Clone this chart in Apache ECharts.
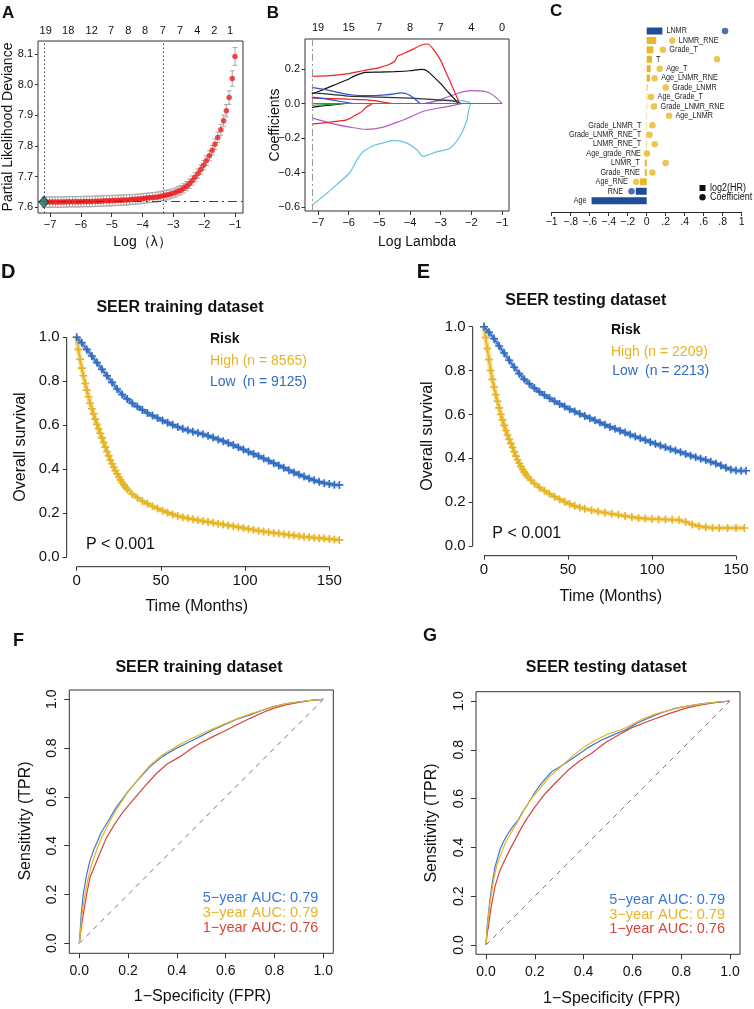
<!DOCTYPE html>
<html><head><meta charset="utf-8">
<script src="https://cdn.jsdelivr.net/npm/echarts@6/dist/echarts.min.js"></script>
<style>html,body{margin:0;padding:0;background:#fff}#c{width:754px;height:1009px}</style>
</head><body><div id="c"></div><script>
// ---------------- DATA ----------------
// Panel A: cross-validated LASSO
const lassoLogLambda = [-7.20,-7.11,-7.01,-6.92,-6.83,-6.74,-6.64,-6.55,-6.46,-6.37,-6.27,-6.18,-6.09,-6.00,-5.90,-5.81,-5.72,-5.63,-5.53,-5.44,-5.35,-5.26,-5.16,-5.07,-4.98,-4.89,-4.79,-4.70,-4.61,-4.52,-4.42,-4.33,-4.24,-4.15,-4.05,-3.96,-3.87,-3.78,-3.68,-3.59,-3.50,-3.41,-3.31,-3.22,-3.13,-3.04,-2.94,-2.85,-2.76,-2.67,-2.57,-2.48,-2.39,-2.30,-2.20,-2.11,-2.02,-1.93,-1.83,-1.74,-1.65,-1.56,-1.46,-1.37,-1.28,-1.19,-1.09,-1.00];
const lassoDeviance = [7.617,7.617,7.617,7.617,7.617,7.617,7.617,7.617,7.618,7.618,7.618,7.618,7.618,7.618,7.619,7.619,7.619,7.619,7.620,7.620,7.620,7.621,7.621,7.621,7.622,7.622,7.623,7.623,7.624,7.624,7.625,7.626,7.626,7.627,7.628,7.629,7.630,7.631,7.632,7.633,7.634,7.636,7.638,7.640,7.642,7.645,7.648,7.652,7.656,7.662,7.669,7.677,7.687,7.698,7.710,7.723,7.737,7.752,7.768,7.786,7.806,7.828,7.853,7.882,7.915,7.958,8.020,8.092];
const lassoSE = [0.017,0.017,0.017,0.017,0.017,0.017,0.017,0.017,0.017,0.017,0.017,0.017,0.017,0.017,0.017,0.017,0.017,0.017,0.017,0.017,0.017,0.017,0.017,0.017,0.017,0.017,0.017,0.017,0.017,0.017,0.016,0.016,0.016,0.016,0.016,0.016,0.016,0.016,0.016,0.016,0.016,0.016,0.016,0.016,0.015,0.015,0.015,0.015,0.015,0.015,0.015,0.015,0.015,0.015,0.015,0.015,0.015,0.016,0.016,0.016,0.017,0.017,0.018,0.019,0.020,0.022,0.025,0.029];
const lassoTopPos = [-7.14,-6.41,-5.65,-5.02,-4.46,-3.92,-3.34,-2.78,-2.22,-1.67,-1.16];
const lassoTopCount = [19,18,12,7,8,8,7,7,4,2,1];
const lambdaMinLog = -7.20, lambda1seLog = -3.34;
const lassoXTicks = [-7,-6,-5,-4,-3,-2,-1];
const lassoYTicks = [7.6,7.7,7.8,7.9,8.0,8.1];

// Panel B: coefficient paths
const coefTopPos = [-7,-6,-5,-4,-3,-2,-1];
const coefTopCount = [19,15,7,8,7,4,0];
const coefYTicks = [-0.6,-0.4,-0.2,0.0,0.2];
const pathRed1 = [[-7.2,0.158],[-6.6,0.162],[-6.07,0.172],[-5.53,0.19],[-5.0,0.208],[-4.7,0.225],[-4.5,0.245],[-4.4,0.275],[-4.2,0.29],[-3.9,0.315],[-3.65,0.338],[-3.42,0.345],[-3.2,0.305],[-3.0,0.25],[-2.8,0.17],[-2.6,0.09],[-2.43,0.02],[-2.38,0],[-1,0]];
const pathBlack1 = [[-7.2,0.056],[-6.9,0.075],[-6.5,0.105],[-6.07,0.136],[-5.8,0.16],[-5.45,0.18],[-5.0,0.182],[-4.5,0.185],[-4.0,0.19],[-3.62,0.198],[-3.45,0.19],[-3.2,0.15],[-3.0,0.115],[-2.8,0.075],[-2.6,0.035],[-2.45,0.007],[-2.4,0],[-1,0]];
const pathBlue1 = [[-7.2,0.094],[-6.8,0.082],[-6.4,0.066],[-6.0,0.052],[-5.6,0.046],[-5.2,0.046],[-4.8,0.05],[-4.5,0.056],[-4.3,0.062],[-4.1,0.055],[-3.9,0.035],[-3.75,0.012],[-3.65,0],[-1,0]];
const pathBlue2 = [[-7.2,0.037],[-6.8,0.028],[-6.4,0.016],[-6.0,0.004],[-5.85,0],[-1,0]];
const pathBlack2 = [[-7.2,0.062],[-6.5,0.052],[-6.0,0.043],[-5.0,0.037],[-4.0,0.031],[-3.6,0.027],[-3.0,0.02],[-2.6,0.014],[-2.4,0.005],[-2.3,0],[-1,0]];
const pathRed2 = [[-7.2,0.031],[-6.5,0.028],[-6.0,0.025],[-5.5,0.022],[-5.0,0.012],[-4.7,0.003],[-4.6,0],[-1,0]];
const pathRed3 = [[-7.2,-0.12],[-6.6,-0.108],[-6.07,-0.095],[-5.8,-0.07],[-5.6,-0.05],[-5.45,-0.025],[-5.3,-0.008],[-5.2,0],[-1,0]];
const pathPurple1 = [[-7.2,-0.083],[-6.5,-0.118],[-5.96,-0.137],[-5.42,-0.15],[-4.87,-0.137],[-4.33,-0.103],[-3.95,-0.075],[-3.57,-0.045],[-2.92,-0.022],[-2.5,-0.008],[-2.27,0],[-1,0]];
const pathPurple2 = [[-7.2,0],[-3.55,0],[-3.2,0.012],[-2.9,0.03],[-2.5,0.055],[-2.2,0.07],[-2.0,0.075],[-1.6,0.072],[-1.3,0.05],[-1.0,0]];
const pathCyan1 = [[-7.2,-0.59],[-6.91,-0.55],[-6.39,-0.47],[-5.96,-0.4],[-5.74,-0.33],[-5.53,-0.28],[-5.2,-0.245],[-4.87,-0.228],[-4.52,-0.214],[-4.1,-0.23],[-3.77,-0.27],[-3.58,-0.306],[-3.13,-0.28],[-2.7,-0.26],[-2.37,-0.19],[-2.15,-0.1],[-1.99,0],[-1,0]];
const pathCyan2 = [[-7.2,0],[-3.6,0],[-3.2,0.012],[-2.8,0.02],[-2.4,0.018],[-2.1,0.008],[-2.0,0],[-1,0]];
const pathBlack3 = [[-7.2,-0.022],[-6.8,-0.013],[-6.4,-0.005],[-6.1,0],[-1,0]];
const pathGreen1 = [[-7.2,-0.01],[-6.6,-0.005],[-6.1,0],[-1,0]];
const pathGreen2 = [[-7.2,0],[-1,0]];

// Panel C: log2(HR) bars and coefficients
const cLabels = ["LNMR","LNMR_RNE","Grade_T","T","Age_T","Age_LNMR_RNE","Grade_LNMR","Age_Grade_T","Grade_LNMR_RNE","Age_LNMR","Grade_LNMR_T","Grade_LNMR_RNE_T","LNMR_RNE_T","Age_grade_RNE","LNMR_T","Grade_RNE","Age_RNE","RNE","Age"];
const cLog2HR = [0.165,0.10,0.07,0.056,0.042,0.035,0.008,0.006,0.005,0.004,-0.004,-0.005,-0.006,-0.008,-0.02,-0.02,-0.07,-0.115,-0.58];
const cCoef = [0.825,0.27,0.17,0.74,0.137,0.084,0.20,0.046,0.077,0.235,0.06,0.03,0.084,0.003,0.20,0.06,-0.11,-0.16,null];
const cHighlighted = ["LNMR","RNE","Age"];
const cTicks = [-1,-0.8,-0.6,-0.4,-0.2,0,0.2,0.4,0.6,0.8,1];

// Panel D / E: Kaplan-Meier
const kmXTicks = [0,50,100,150];
const kmYTicks = [0,0.2,0.4,0.6,0.8,1.0];
const trainHigh = [[0,1.0],[1,0.945],[2,0.90],[3,0.86],[4,0.825],[5,0.79],[6,0.76],[7,0.73],[8,0.70],[9,0.675],[10,0.652],[11,0.628],[12,0.605],[13,0.584],[14,0.564],[15,0.543],[16,0.522],[17,0.501],[18,0.481],[19,0.461],[20,0.442],[21,0.425],[22,0.409],[23,0.394],[24,0.379],[25,0.365],[26,0.352],[27,0.340],[28,0.329],[29,0.318],[30,0.309],[33,0.288],[36,0.271],[39,0.256],[42,0.244],[45,0.232],[48,0.222],[51,0.212],[54,0.203],[57,0.195],[60,0.188],[63,0.182],[66,0.177],[69,0.173],[72,0.169],[75,0.165],[78,0.161],[81,0.157],[84,0.153],[87,0.149],[90,0.145],[93,0.141],[96,0.137],[99,0.133],[102,0.129],[105,0.125],[108,0.121],[111,0.117],[114,0.114],[117,0.111],[120,0.108],[123,0.105],[126,0.102],[129,0.099],[132,0.096],[135,0.093],[138,0.091],[141,0.089],[144,0.087],[147,0.085],[150,0.083],[153,0.081],[156,0.079]];
const trainLow = [[0,1.0],[3,0.975],[6,0.945],[9,0.915],[12,0.885],[15,0.855],[18,0.825],[21,0.795],[24,0.765],[27,0.74],[30,0.72],[33,0.70],[36,0.685],[39,0.67],[42,0.656],[45,0.644],[48,0.633],[51,0.622],[54,0.612],[57,0.602],[60,0.592],[63,0.584],[66,0.577],[69,0.571],[72,0.565],[75,0.559],[78,0.552],[81,0.544],[84,0.536],[87,0.528],[90,0.519],[93,0.51],[96,0.50],[99,0.49],[102,0.48],[105,0.47],[108,0.46],[111,0.449],[114,0.439],[117,0.428],[120,0.417],[123,0.407],[126,0.396],[129,0.386],[132,0.376],[135,0.367],[138,0.358],[141,0.350],[144,0.343],[147,0.337],[150,0.333],[153,0.330],[156,0.329]];
const testHigh = [[0,1.0],[1,0.95],[2,0.90],[3,0.85],[4,0.80],[5,0.76],[6,0.725],[7,0.69],[8,0.66],[9,0.63],[10,0.60],[11,0.575],[12,0.55],[13,0.527],[14,0.506],[15,0.487],[16,0.468],[17,0.449],[18,0.43],[19,0.41],[20,0.393],[21,0.377],[22,0.362],[23,0.349],[24,0.337],[25,0.326],[26,0.316],[28,0.30],[30,0.285],[33,0.267],[36,0.252],[39,0.238],[42,0.225],[45,0.213],[48,0.202],[51,0.192],[54,0.183],[57,0.176],[60,0.170],[64,0.163],[68,0.157],[72,0.152],[76,0.147],[80,0.142],[84,0.137],[88,0.132],[92,0.128],[96,0.125],[100,0.123],[104,0.122],[108,0.121],[112,0.120],[116,0.118],[120,0.110],[124,0.098],[128,0.090],[132,0.085],[136,0.083],[140,0.082],[145,0.082],[150,0.082],[155,0.082]];
const testLow = [[0,1.0],[3,0.975],[6,0.945],[9,0.912],[12,0.88],[15,0.847],[18,0.815],[21,0.786],[24,0.760],[27,0.74],[30,0.72],[33,0.703],[36,0.688],[39,0.674],[42,0.66],[45,0.648],[48,0.636],[51,0.624],[54,0.613],[57,0.603],[60,0.593],[63,0.583],[66,0.573],[69,0.563],[72,0.553],[75,0.543],[78,0.535],[81,0.526],[84,0.517],[87,0.508],[90,0.499],[93,0.491],[96,0.483],[99,0.474],[102,0.466],[105,0.458],[108,0.450],[111,0.442],[114,0.435],[117,0.428],[120,0.420],[123,0.412],[126,0.405],[129,0.398],[132,0.392],[135,0.384],[138,0.376],[141,0.367],[144,0.357],[147,0.349],[150,0.344],[153,0.343],[156,0.343]];
const trainN = {high: 8565, low: 9125};
const testN = {high: 2209, low: 2213};
const pValueText = "P < 0.001";

// Panel F / G: ROC
const rocTicks = [0,0.2,0.4,0.6,0.8,1.0];
const rocYears = ["5","3","1"];
const aucTrain = [0.79,0.79,0.76];
const aucTest = [0.79,0.79,0.76];
const rocTrain5 = [[0,0],[0.003,0.04],[0.008,0.12],[0.016,0.2],[0.03,0.28],[0.044,0.34],[0.06,0.385],[0.071,0.41],[0.09,0.455],[0.112,0.49],[0.15,0.555],[0.194,0.615],[0.24,0.67],[0.29,0.724],[0.34,0.765],[0.4,0.80],[0.45,0.825],[0.495,0.847],[0.55,0.875],[0.604,0.90],[0.65,0.92],[0.70,0.936],[0.75,0.955],[0.795,0.97],[0.85,0.982],[0.905,0.99],[0.95,0.996],[1,1]];
const rocTrain3 = [[0,0],[0.004,0.04],[0.01,0.11],[0.02,0.18],[0.035,0.26],[0.05,0.32],[0.07,0.38],[0.09,0.43],[0.115,0.48],[0.15,0.545],[0.194,0.612],[0.24,0.672],[0.29,0.73],[0.34,0.772],[0.4,0.808],[0.45,0.835],[0.5,0.858],[0.55,0.88],[0.604,0.903],[0.65,0.922],[0.70,0.94],[0.75,0.955],[0.8,0.97],[0.85,0.982],[0.9,0.99],[0.95,0.996],[1,1]];
const rocTrain1 = [[0,0],[0.005,0.04],[0.01,0.08],[0.02,0.14],[0.03,0.2],[0.044,0.27],[0.06,0.31],[0.085,0.37],[0.11,0.43],[0.146,0.49],[0.18,0.54],[0.22,0.587],[0.27,0.645],[0.317,0.697],[0.36,0.735],[0.413,0.765],[0.455,0.795],[0.495,0.82],[0.55,0.848],[0.604,0.874],[0.65,0.898],[0.70,0.922],[0.75,0.945],[0.795,0.963],[0.85,0.978],[0.905,0.988],[0.95,0.995],[1,1]];
const rocTest5 = [[0,0],[0.005,0.08],[0.016,0.184],[0.025,0.25],[0.037,0.32],[0.057,0.39],[0.075,0.43],[0.091,0.458],[0.11,0.485],[0.132,0.512],[0.15,0.545],[0.173,0.58],[0.2,0.625],[0.228,0.663],[0.269,0.71],[0.31,0.735],[0.365,0.772],[0.42,0.81],[0.474,0.84],[0.52,0.86],[0.57,0.881],[0.62,0.91],[0.679,0.936],[0.72,0.952],[0.775,0.97],[0.83,0.98],[0.884,0.988],[0.94,0.994],[1,1]];
const rocTest3 = [[0,0],[0.005,0.07],[0.016,0.17],[0.03,0.26],[0.045,0.33],[0.06,0.37],[0.08,0.42],[0.1,0.455],[0.13,0.505],[0.16,0.56],[0.19,0.605],[0.22,0.64],[0.26,0.69],[0.3,0.725],[0.35,0.77],[0.4,0.81],[0.45,0.84],[0.5,0.865],[0.55,0.88],[0.6,0.905],[0.65,0.93],[0.7,0.948],[0.75,0.962],[0.8,0.975],[0.85,0.983],[0.9,0.99],[0.95,0.996],[1,1]];
const rocTest1 = [[0,0],[0.004,0.04],[0.01,0.075],[0.02,0.15],[0.037,0.24],[0.055,0.3],[0.078,0.35],[0.1,0.395],[0.119,0.43],[0.145,0.48],[0.173,0.526],[0.2,0.565],[0.242,0.62],[0.29,0.67],[0.337,0.717],[0.385,0.755],[0.433,0.786],[0.49,0.83],[0.556,0.868],[0.6,0.892],[0.679,0.922],[0.75,0.948],[0.816,0.97],[0.87,0.982],[0.93,0.992],[1,1]];

// ---------------- STYLE / LAYOUT ----------------
const FF = '"Liberation Sans", Arial, Helvetica, sans-serif';
const MINUS = s => String(s).replace(/-/g, '\u2212');
const rng = (pA, vA, pB, vB, p0, p1) => { const k = (vB - vA) / (pB - pA); return [vA + (p0 - pA) * k, vA + (p1 - pA) * k]; };
const COL = {
  black:'#111111', red:'#ee2222', blue:'#2f52c8', purple:'#b35cc3', cyan:'#5ec6df', green:'#22a628',
  cBlue:'#1f4c98', cYellow:'#e8b626',
  kmBlue:'#2f6cc2', kmYellow:'#e6b422',
  rBlue:'#3a78d0', rYellow:'#e8b423', rRed:'#d6453c'
};

const G = {
  A:{left:38, top:41, width:205, height:172},
  B:{left:305, top:39, width:204, height:172},
  C:{left:551.7, top:26.3, width:190, height:179.1},
  D:{left:66.7, top:330, width:279.3, height:236.7},
  E:{left:472.7, top:320, width:277.3, height:235.7},
  F:{left:69.3, top:690, width:264, height:263.3},
  H:{left:476, top:691.7, width:264, height:262.6}
};
const Ax = rng(50,-7,235,-1, 38,243), Ay = rng(207.3,7.6,54,8.1, 213,41);
const Bx = rng(318,-7,502,-1, 305,509), By = rng(207,-0.6,69,0.2, 211,39);
const Dx = rng(76.7,0,329.3,150, 66.7,346), Dy = rng(557.3,0,337.3,1, 566.7,330);
const Ex = rng(484,0,736,150, 472.7,750), Ey = rng(546,0,326.7,1, 555.7,320);
const Fx = rng(79.3,0,323.3,1, 69.3,333.3), Fy = rng(943.3,0,699.3,1, 953.3,690);
const Hx = rng(486,0,730,1, 476,740), Hy = rng(945,0,701,1, 954.3,691.7);

function vAxis(o) {
  return {
    type:'value', gridIndex:o.g, min:o.r[0], max:o.r[1], position:o.pos, offset:o.offset||0,
    axisLine:{show:!!o.line, onZero:false, lineStyle:{color:'#222', width:1}},
    splitLine:{show:false},
    axisTick:{show:o.tick!==false, inside:false, length:o.tl||4, customValues:o.ticks, lineStyle:{color:'#333', width:1}},
    axisLabel:{show:true, customValues:o.labels||o.ticks, formatter:o.fmt, margin:o.m, fontSize:o.fs,
      color:'#111', fontFamily:FF, rotate:o.rot||0, hideOverlap:false}
  };
}
const f1 = v => MINUS((Math.round(v*10)/10).toFixed(1));
const fInt = v => MINUS(Math.round(v));
const cFmt = v => { const r = Math.round(v*10)/10; if (r === 0) return '0'; const a = Math.abs(r); const s = a === 1 ? '1' : String(a).replace(/^0/, ''); return (r < 0 ? '\u2212' : '') + s; };
const idxOf = (arr, v) => arr.findIndex(p => Math.abs(p - v) < 1e-6);

const xAxis = [
  vAxis({g:0, r:Ax, ticks:lassoXTicks, fmt:fInt, m:6, fs:11, tl:4}),
  vAxis({g:0, r:Ax, pos:'top', ticks:lassoTopPos, tick:false, fmt:v => String(lassoTopCount[idxOf(lassoTopPos, v)]), m:5, fs:11}),
  vAxis({g:1, r:Bx, ticks:lassoXTicks, fmt:fInt, m:6, fs:11, tl:4}),
  vAxis({g:1, r:Bx, pos:'top', ticks:coefTopPos, tick:false, fmt:v => String(coefTopCount[idxOf(coefTopPos, v)]), m:6, fs:11}),
  vAxis({g:2, r:[-1,1], ticks:cTicks, fmt:cFmt, m:5, fs:10.5, tl:4, line:true, offset:6.6}),
  vAxis({g:3, r:Dx, ticks:kmXTicks, fmt:v => String(Math.round(v)), m:7, fs:15, tl:4}),
  vAxis({g:4, r:Ex, ticks:kmXTicks, fmt:v => String(Math.round(v)), m:7, fs:15, tl:4}),
  vAxis({g:5, r:Fx, ticks:rocTicks, fmt:f1, m:11, fs:14, tl:5}),
  vAxis({g:6, r:Hx, ticks:rocTicks, fmt:f1, m:11, fs:14, tl:5})
];
const yAxis = [
  vAxis({g:0, r:Ay, ticks:lassoYTicks, fmt:f1, m:5, fs:11, tl:3}),
  vAxis({g:1, r:By, ticks:coefYTicks, fmt:f1, m:5, fs:11, tl:3.5}),
  {type:'category', gridIndex:2, data:cLabels, inverse:true, show:false},
  vAxis({g:3, r:Dy, ticks:kmYTicks, fmt:f1, m:7, fs:15, tl:4}),
  vAxis({g:4, r:Ey, ticks:kmYTicks, fmt:f1, m:7, fs:15, tl:4}),
  vAxis({g:5, r:Fy, ticks:rocTicks, fmt:f1, m:10, fs:14, tl:5, rot:90}),
  vAxis({g:6, r:Hy, ticks:rocTicks, fmt:f1, m:10, fs:14, tl:5, rot:90})
];

const boxGrid = g => Object.assign({show:true, borderColor:'#333', borderWidth:1, backgroundColor:'transparent', containLabel:false}, g);
const plainGrid = g => Object.assign({show:false, containLabel:false}, g);
const grid = [boxGrid(G.A), boxGrid(G.B), plainGrid(G.C), plainGrid(G.D), plainGrid(G.E), boxGrid(G.F), boxGrid(G.H)];

const series = [];
// ---- A ----
series.push({
  type:'custom', xAxisIndex:0, yAxisIndex:0, z:2, silent:true,
  data: lassoLogLambda.map((x,i) => [x, lassoDeviance[i] - lassoSE[i], lassoDeviance[i] + lassoSE[i]]),
  encode:{x:0, y:[1,2]},
  renderItem:(p, api) => {
    const lo = api.coord([api.value(0), api.value(1)]);
    const hi = api.coord([api.value(0), api.value(2)]);
    const w = 2.4, st = {stroke:'#a9a9a9', lineWidth:1};
    return {type:'group', children:[
      {type:'line', shape:{x1:lo[0], y1:lo[1], x2:hi[0], y2:hi[1]}, style:st},
      {type:'line', shape:{x1:lo[0]-w, y1:lo[1], x2:lo[0]+w, y2:lo[1]}, style:st},
      {type:'line', shape:{x1:hi[0]-w, y1:hi[1], x2:hi[0]+w, y2:hi[1]}, style:st}
    ]};
  }
});
series.push({
  type:'scatter', xAxisIndex:0, yAxisIndex:0, z:3, silent:true, symbolSize:5.5,
  itemStyle:{color:'#f01c1c'},
  data: lassoLogLambda.map((x,i) => [x, lassoDeviance[i]]),
  markLine:{silent:true, symbol:['none','none'], label:{show:false}, animation:false,
    data:[
      {xAxis:lambdaMinLog, lineStyle:{type:[1.5,2.5], color:'#444', width:1}},
      {xAxis:lambda1seLog, lineStyle:{type:[1.5,2.5], color:'#444', width:1}},
      {yAxis:Math.min(...lassoDeviance), lineStyle:{type:[9,4,2,4], color:'#444', width:1}}
    ]}
});
series.push({
  type:'scatter', xAxisIndex:0, yAxisIndex:0, z:5, silent:true, symbol:'diamond', symbolSize:[10,11],
  itemStyle:{color:'#1e8c82', borderColor:'#222', borderWidth:1},
  data:[[lassoLogLambda[idxOf(lassoLogLambda, lambdaMinLog)], lassoDeviance[idxOf(lassoLogLambda, lambdaMinLog)]]]
});
// ---- B ----
const bPaths = [
  [pathCyan1, COL.cyan], [pathCyan2, COL.cyan], [pathPurple1, COL.purple], [pathPurple2, COL.purple],
  [pathRed1, COL.red], [pathRed2, COL.red], [pathRed3, COL.red],
  [pathBlack1, COL.black], [pathBlack2, '#333'], [pathBlack3, COL.black],
  [pathBlue1, COL.blue], [pathBlue2, COL.blue], [pathGreen1, COL.green], [pathGreen2, COL.green]
];
bPaths.forEach(([d, c], i) => series.push({
  type:'line', xAxisIndex:2, yAxisIndex:1, data:d, showSymbol:false, symbol:'none', silent:true,
  smooth:0.25, lineStyle:{color:c, width:1.2}, z:3 + i * 0.01,
  markLine: i === 0 ? {silent:true, symbol:['none','none'], label:{show:false}, animation:false,
    data:[{xAxis:lambdaMinLog, lineStyle:{type:[7,3,2,3], color:'#999', width:1}}]} : undefined
}));
// ---- C ----
const cColor = name => cHighlighted.includes(name) ? COL.cBlue : COL.cYellow;
series.push({
  type:'bar', xAxisIndex:4, yAxisIndex:2, barWidth:7, silent:true,
  data: cLog2HR.map((v,i) => ({value:v, itemStyle:{color:cColor(cLabels[i])}}))
});
series.push({
  type:'scatter', xAxisIndex:4, yAxisIndex:2, symbolSize:6.5, silent:true, z:4,
  data: cCoef.map((v,i) => v == null ? null : {value:[v, cLabels[i]], itemStyle:{color:cColor(cLabels[i])}}).filter(d => d)
});
series.push({
  type:'custom', xAxisIndex:4, yAxisIndex:2, silent:true, z:5,
  data: cLabels.map((n,i) => [cLog2HR[i], n]),
  encode:{x:0, y:1},
  renderItem:(p, api) => {
    const i = p.dataIndex, b = cLog2HR[i], d = cCoef[i];
    let anchor = b, gap, align;
    if (b >= 0) {
      gap = 4; align = 'left';
      if (d != null && Math.abs(d) < 0.5 && d > b) { anchor = d; gap = 6.5; }
    } else {
      gap = 5; align = 'right';
      if (d != null && d < b) { anchor = d; gap = 8.5; }
    }
    const pt = api.coord([anchor, cLabels[i]]);
    const x = align === 'left' ? pt[0] + gap : pt[0] - gap;
    return {type:'text', x:x, y:pt[1], scaleX:0.85,
      style:{text:cLabels[i], x:0, y:0, font:'8.5px ' + FF, fill:'#222',
        textAlign:align, textVerticalAlign:'middle', align:align, verticalAlign:'middle'}};
  }
});
// ---- D / E ----
const plus = 'path://M4,0h2v4h4v2h-4v4h-2v-4h-4v-2h4z';
function kmSeries(xi, yi, d, c) {
  return [
    {type:'line', xAxisIndex:xi, yAxisIndex:yi, data:d, symbol:'none', silent:true, clip:false,
      lineStyle:{color:c, width:5, opacity:0.45, join:'round'}, z:2},
    {type:'line', xAxisIndex:xi, yAxisIndex:yi, data:d, symbol:plus, symbolSize:8, showAllSymbol:true,
      silent:true, clip:false, lineStyle:{color:c, width:1.5}, itemStyle:{color:c}, z:3}
  ];
}
function axisLines(xi, yi, xr, yr) {
  const st = {color:'#222', width:1};
  return [
    {type:'line', xAxisIndex:xi, yAxisIndex:yi, data:[[kmXTicks[0], yr[0]], [kmXTicks[kmXTicks.length-1], yr[0]]], symbol:'none', silent:true, clip:false, lineStyle:st, z:2},
    {type:'line', xAxisIndex:xi, yAxisIndex:yi, data:[[xr[0], kmYTicks[0]], [xr[0], kmYTicks[kmYTicks.length-1]]], symbol:'none', silent:true, clip:false, lineStyle:st, z:2}
  ];
}
series.push(...kmSeries(5, 3, trainHigh, COL.kmYellow), ...kmSeries(5, 3, trainLow, COL.kmBlue), ...axisLines(5, 3, Dx, Dy));
series.push(...kmSeries(6, 4, testHigh, COL.kmYellow), ...kmSeries(6, 4, testLow, COL.kmBlue), ...axisLines(6, 4, Ex, Ey));
// ---- F / G ----
function rocSeries(xi, yi, d, c, extra) {
  return Object.assign({type:'line', xAxisIndex:xi, yAxisIndex:yi, data:d, symbol:'none', silent:true,
    lineStyle:{color:c, width:1.2}, z:3}, extra || {});
}
[[7,5,[rocTrain1,rocTrain5,rocTrain3]],[8,6,[rocTest1,rocTest5,rocTest3]]].forEach(([xi,yi,[r1,r5,r3]]) => {
  series.push(rocSeries(xi, yi, [[0,0],[1,1]], '#777', {lineStyle:{color:'#777', width:1, type:[5,5]}, z:2}));
  series.push(rocSeries(xi, yi, r1, COL.rRed), rocSeries(xi, yi, r5, COL.rBlue), rocSeries(xi, yi, r3, COL.rYellow));
});

// ---------------- TEXT ----------------
function txt(text, x, y, o) {
  o = o || {};
  const a = o.a || 'center';
  return {type:'text', x:x, y:y, rotation:o.rot || 0, scaleX:o.sx || 1, z:100, silent:true,
    style:{text:text, x:0, y:0, font:(o.w || 'normal') + ' ' + (o.fs || 12) + 'px ' + FF, fill:o.c || '#111',
      textAlign:a, textVerticalAlign:'middle', align:a, verticalAlign:'middle'}};
}
const R90 = Math.PI / 2;
const aucColors = [COL.rBlue, COL.rYellow, COL.rRed];
const gfx = [
  txt('A', 2, 13, {a:'left', w:'bold', fs:17}),
  txt('B', 266.7, 13, {a:'left', w:'bold', fs:17}),
  txt('C', 550, 11, {a:'left', w:'bold', fs:17}),
  txt('D', 1, 272.5, {a:'left', w:'bold', fs:20}),
  txt('E', 416.7, 272.5, {a:'left', w:'bold', fs:20}),
  txt('F', 13, 641.5, {a:'left', w:'bold', fs:18}),
  txt('G', 423, 636.5, {a:'left', w:'bold', fs:18}),
  txt('Partial Likelihood Deviance', 8, 127, {rot:R90, fs:14}),
  txt('Log\uFF08\u03BB\uFF09', 142.5, 242, {fs:14}),
  txt('Coefficients', 275, 125, {rot:R90, fs:14}),
  txt('Log Lambda', 417, 242, {fs:14}),
  // C legend
  {type:'rect', shape:{x:699.5, y:185, width:6, height:6}, style:{fill:'#111'}, z:100, silent:true},
  {type:'circle', shape:{cx:702.5, cy:197.3, r:3.2}, style:{fill:'#111'}, z:100, silent:true},
  txt('log2(HR)', 710, 188.3, {a:'left', fs:10, sx:0.9}),
  txt('Coefficient', 710, 197.3, {a:'left', fs:10, sx:0.9}),
  // D
  txt('SEER training dataset', 180, 308, {w:'bold', fs:16}),
  txt('Overall survival', 21, 447, {rot:R90, fs:16}),
  txt('Time (Months)', 196.7, 607, {fs:16}),
  txt('Risk', 210, 339, {a:'left', w:'bold', fs:14}),
  txt('High (n = ' + trainN.high + ')', 210, 360.7, {a:'left', fs:14, c:COL.kmYellow}),
  txt('Low', 210, 381.7, {a:'left', fs:14, c:COL.kmBlue}),
  txt('(n = ' + trainN.low + ')', 242.7, 381.7, {a:'left', fs:14, c:COL.kmBlue}),
  txt(pValueText, 86, 544.3, {a:'left', fs:16}),
  // E
  txt('SEER testing dataset', 585.8, 301, {w:'bold', fs:16}),
  txt('Overall survival', 428, 436, {rot:R90, fs:16}),
  txt('Time (Months)', 610.8, 596.7, {fs:16}),
  txt('Risk', 611, 330, {a:'left', w:'bold', fs:14}),
  txt('High (n = ' + testN.high + ')', 611, 351.7, {a:'left', fs:14, c:COL.kmYellow}),
  txt('Low', 612.3, 370.7, {a:'left', fs:14, c:COL.kmBlue}),
  txt('(n = ' + testN.low + ')', 645, 370.7, {a:'left', fs:14, c:COL.kmBlue}),
  txt(pValueText, 492.3, 533.3, {a:'left', fs:16}),
  // F
  txt('SEER training dataset', 199, 667.3, {w:'bold', fs:16}),
  txt('Sensitivity (TPR)', 26, 821, {rot:R90, fs:16}),
  txt('1\u2212Specificity (FPR)', 202.5, 997, {fs:16}),
  // G
  txt('SEER testing dataset', 606.3, 667.3, {w:'bold', fs:16}),
  txt('Sensitivity (TPR)', 431.7, 823, {rot:R90, fs:16}),
  txt('1\u2212Specificity (FPR)', 611.7, 999, {fs:16})
];
rocYears.forEach((yr, i) => {
  gfx.push(txt(yr + '\u2212year AUC: ' + aucTrain[i].toFixed(2), 318.3, 898.3 + i * 14.7, {a:'right', fs:14.5, c:aucColors[i]}));
  gfx.push(txt(yr + '\u2212year AUC: ' + aucTest[i].toFixed(2), 725, 900 + i * 14.7, {a:'right', fs:14.5, c:aucColors[i]}));
});

const chart = echarts.init(document.getElementById('c'), null, {renderer:'canvas', width:754, height:1009});
chart.setOption({
  backgroundColor:'#ffffff', animation:false,
  textStyle:{fontFamily:FF},
  grid, xAxis, yAxis, series,
  graphic:{elements:gfx}
});
</script></body></html>
